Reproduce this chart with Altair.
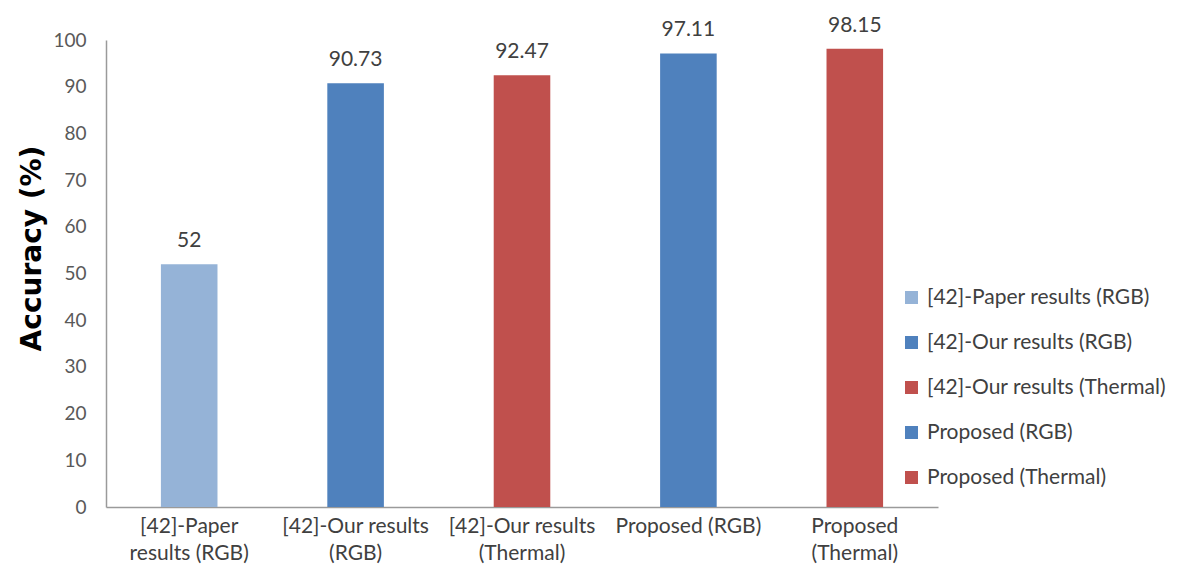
import altair as alt
import pandas as pd

# Categories (also the legend entries), accuracies and bar colours
categories = [
    "[42]-Paper results (RGB)",
    "[42]-Our results (RGB)",
    "[42]-Our results (Thermal)",
    "Proposed (RGB)",
    "Proposed (Thermal)",
]
accuracy = [52, 90.73, 92.47, 97.11, 98.15]
value_labels = ["52", "90.73", "92.47", "97.11", "98.15"]
tick_lines = [
    ["[42]-Paper", "results (RGB)"],
    ["[42]-Our results", "(RGB)"],
    ["[42]-Our results", "(Thermal)"],
    ["Proposed (RGB)"],
    ["Proposed", "(Thermal)"],
]
colors = ["#95B3D7", "#4F81BD", "#C0504D", "#4F81BD", "#C0504D"]
y_ticks = list(range(0, 101, 10))

df = pd.DataFrame({"category": categories, "accuracy": accuracy, "label": value_labels})

# Multi-line x tick labels built from tick_lines
def js_str(s):
    return "'" + s.replace("'", "\\'") + "'"

expr = "''"
for cat, lines in reversed(list(zip(categories, tick_lines))):
    arr = "[" + ",".join(js_str(l) for l in lines) + "]"
    expr = f"datum.value == {js_str(cat)} ? {arr} : ({expr})"

FONT = "Lato"

x_enc = alt.X(
    "category:N",
    sort=categories,
    scale=alt.Scale(paddingInner=0.66, paddingOuter=0.33),
    axis=alt.Axis(
        title=None,
        labelAngle=0,
        labelExpr=expr,
        labelFont=FONT,
        labelFontSize=21,
        labelColor="#404040",
        labelLineHeight=27,
        labelPadding=8,
        labelBaseline="top",
        ticks=False,
        domainColor="#9A9A9A",
        domainWidth=1.5,
        grid=False,
    ),
)

y_enc = alt.Y(
    "accuracy:Q",
    scale=alt.Scale(domain=[0, 100], nice=False, zero=True),
    axis=alt.Axis(
        title="Accuracy (%)",
        titleFont="DejaVu Sans",
        titleFontSize=28,
        titleFontWeight="bold",
        titleColor="#000000",
        titleX=-74,
        titleY=208,
        titleAlign="center",
        titleBaseline="middle",
        values=y_ticks,
        labelFont=FONT,
        labelFontSize=19,
        labelColor="#595959",
        labelPadding=20,
        ticks=False,
        domainColor="#9A9A9A",
        domainWidth=1.5,
        grid=False,
    ),
)

bars = alt.Chart(df).mark_bar().encode(
    x=x_enc,
    y=y_enc,
    color=alt.Color(
        "category:N",
        sort=categories,
        scale=alt.Scale(domain=categories, range=colors),
        legend=alt.Legend(
            title=None,
            orient="none",
            legendX=795,
            legendY=247,
            symbolType="square",
            symbolSize=169,
            symbolStrokeWidth=0,
            labelFont=FONT,
            labelFontSize=21,
            labelColor="#404040",
            labelOffset=5,
            rowPadding=23,
            labelLimit=400,
        ),
    ),
)

texts = alt.Chart(df).mark_text(
    font=FONT, fontSize=21, color="#404040", baseline="alphabetic", dy=-17
).encode(
    x=alt.X("category:N", sort=categories),
    y=alt.Y("accuracy:Q"),
    text="label:N",
)

chart = (
    alt.layer(bars, texts)
    .properties(
        width=832,
        height=467,
        autosize=alt.AutoSizeParams(type="none"),
        padding={"left": 106, "top": 40, "right": 241, "bottom": 61},
        background="white",
    )
    .configure_view(stroke=None)
)

chart.save("out.html", embed_options={"renderer": "svg", "actions": False})
